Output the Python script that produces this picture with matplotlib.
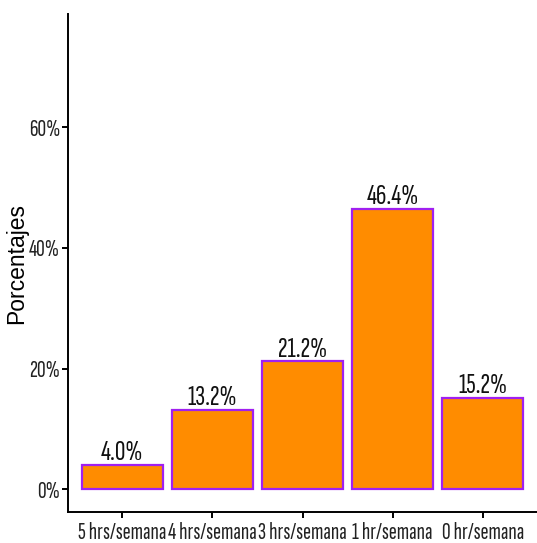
import matplotlib
matplotlib.use("Agg")
import matplotlib.pyplot as plt

categories = ["5 hrs/semana", "4 hrs/semana", "3 hrs/semana", "1 hr/semana", "0 hr/semana"]
values = [4.0, 13.2, 21.2, 46.4, 15.2]
yticks = [0, 20, 40, 60]
ytick_labels = ["0%", "20%", "40%", "60%"]

narrow = ["Sofia Sans Extra Condensed", "Roboto Condensed", "DejaVu Sans"]

fig = plt.figure(figsize=(5.37, 5.43), dpi=100)
ax = fig.add_axes([68/537, 31/543, (537-68)/537, (529-31)/543])

x = list(range(1, len(categories) + 1))
ax.bar(x, values, width=0.9, color="#FF8C00", edgecolor="#A020F0", linewidth=1.6)
for xi, v in zip(x, values):
    ax.text(xi, v + 0.8, f"{v:.1f}%", ha="center", va="baseline", fontsize=21, family=narrow, color="#111111")

ax.set_xlim(0.4, 5.6)
ax.set_ylim(-3.75, 78.75)
ax.set_xticks(x)
ax.set_xticklabels(categories, family=narrow, fontsize=17.3, color="#222222")
ax.set_yticks(yticks)
ax.set_yticklabels(ytick_labels, family=narrow, fontsize=17.3, color="#222222")
ax.set_ylabel("Porcentajes", fontsize=16.5, family=["Liberation Sans", "DejaVu Sans"])
ax.yaxis.set_label_coords(-0.085, 0.5)
for s in ["top", "right"]:
    ax.spines[s].set_visible(False)
for s in ["left", "bottom"]:
    ax.spines[s].set_linewidth(1.4)
ax.tick_params(length=4.5, width=1.4)
ax.tick_params(axis="y", pad=1.2)
ax.tick_params(axis="x", pad=2.5)

fig.savefig("out.png", dpi=100)
